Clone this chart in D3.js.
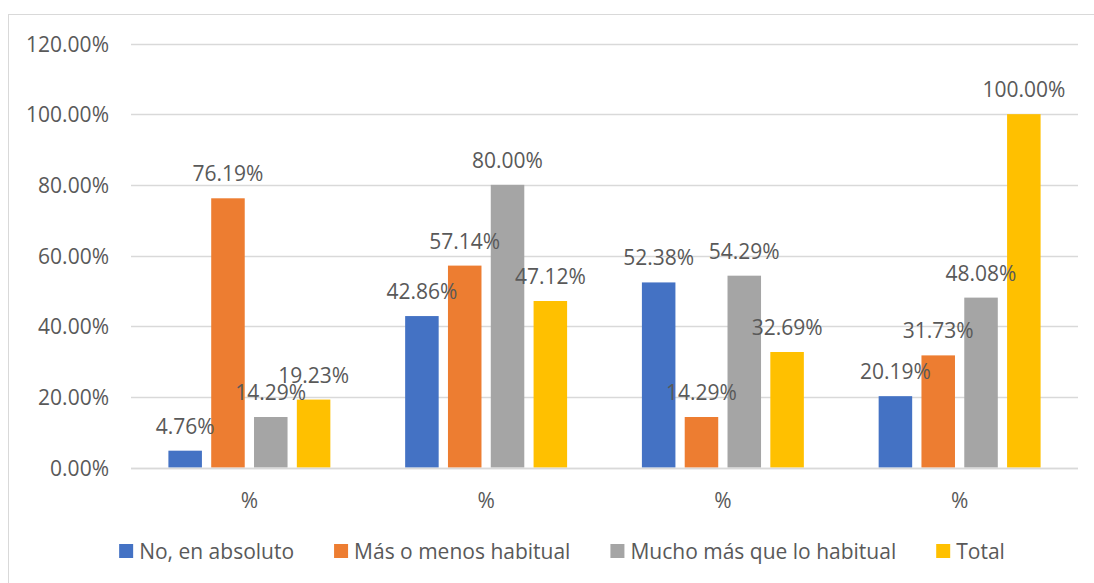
<!DOCTYPE html>
<html><head><meta charset="utf-8">
<script src="https://cdn.jsdelivr.net/npm/d3@7"></script>
<style>
html,body{margin:0;padding:0;background:#fff;}
svg{display:block;}
text{font-family:"Open Sans","Liberation Sans",sans-serif;fill:#595959;}
</style></head>
<body>
<svg id="chart" width="1094" height="583"></svg>
<script>
const categories = ["%", "%", "%", "%"];
const seriesNames = ["No, en absoluto", "Más o menos habitual", "Mucho más que lo habitual", "Total"];
const seriesColors = ["#4472C4", "#ED7D31", "#A5A5A5", "#FFC000"];
const noEnAbsoluto = [4.76, 42.86, 52.38, 20.19];
const masOMenos = [76.19, 57.14, 14.29, 31.73];
const muchoMas = [14.29, 80.00, 54.29, 48.08];
const total = [19.23, 47.12, 32.69, 100.00];
const yTicks = [0, 20, 40, 60, 80, 100, 120];

const seriesValues = [noEnAbsoluto, masOMenos, muchoMas, total];
const svg = d3.select("#chart");
const fs = 21;

// chart border
svg.append("rect").attr("x", 8.5).attr("y", 14.5).attr("width", 1100).attr("height", 600)
  .attr("fill", "none").attr("stroke", "#d9d9d9").attr("stroke-width", 1);

const plot = {left: 131, right: 1078, top: 43.5, bottom: 467.5};
const y = d3.scaleLinear().domain([0, 120]).range([plot.bottom, plot.top]);
const x0 = d3.scaleBand().domain(d3.range(categories.length)).range([plot.left, plot.right]).padding(0);
const outer = 37.4;
const x1 = d3.scaleBand().domain(d3.range(seriesNames.length))
  .range([outer, x0.bandwidth() - outer]).paddingInner(0.217).paddingOuter(0);

// gridlines
svg.append("g").selectAll("line").data(yTicks).join("line")
  .attr("x1", plot.left).attr("x2", plot.right)
  .attr("y1", d => Math.round(y(d)) + 0.5).attr("y2", d => Math.round(y(d)) + 0.5)
  .attr("stroke", "#d9d9d9").attr("stroke-width", 1.3);

// y labels
svg.append("g").selectAll("text").data(yTicks).join("text")
  .attr("x", 109).attr("y", d => y(d)).attr("text-anchor", "end")
  .attr("dominant-baseline", "central").attr("font-size", fs)
  .text(d => d.toFixed(2) + "%");

// bars
const flat = [];
seriesValues.forEach((vals, s) => vals.forEach((v, c) => flat.push({s, c, v})));
svg.append("g").selectAll("rect").data(flat).join("rect")
  .attr("x", d => x0(d.c) + x1(d.s)).attr("width", x1.bandwidth())
  .attr("y", d => y(d.v)).attr("height", d => y(0) - y(d.v))
  .attr("fill", d => seriesColors[d.s]);

// baseline redraw
svg.append("line").attr("x1", plot.left).attr("x2", plot.right)
  .attr("y1", Math.round(y(0)) + 0.5).attr("y2", Math.round(y(0)) + 0.5)
  .attr("stroke", "#d9d9d9").attr("stroke-width", 1.3);

// data labels
svg.append("g").selectAll("text").data(flat).join("text")
  .attr("x", d => x0(d.c) + x1(d.s) + x1.bandwidth() / 2)
  .attr("y", d => y(d.v) - 25).attr("text-anchor", "middle")
  .attr("dominant-baseline", "central").attr("font-size", fs)
  .text(d => d.v.toFixed(2) + "%");

// category labels
svg.append("g").selectAll("text").data(categories).join("text")
  .attr("x", (d, i) => x0(i) + x0.bandwidth() / 2).attr("y", 500)
  .attr("text-anchor", "middle").attr("dominant-baseline", "central").attr("font-size", fs)
  .text(d => d);

// legend
const lg = svg.append("g");
let cx = 0;
const items = [];
seriesNames.forEach((name, i) => {
  const g = lg.append("g");
  g.append("rect").attr("x", cx).attr("y", -7).attr("width", 14).attr("height", 14).attr("fill", seriesColors[i]);
  const t = g.append("text").attr("x", cx + 20).attr("y", 0).attr("dominant-baseline", "central")
    .attr("font-size", fs).text(name);
  const w = t.node().getComputedTextLength();
  cx += 20 + w + 40;
});
const totalW = cx - 40;
lg.attr("transform", `translate(${562 - totalW / 2},551)`);
</script>
</body></html>
